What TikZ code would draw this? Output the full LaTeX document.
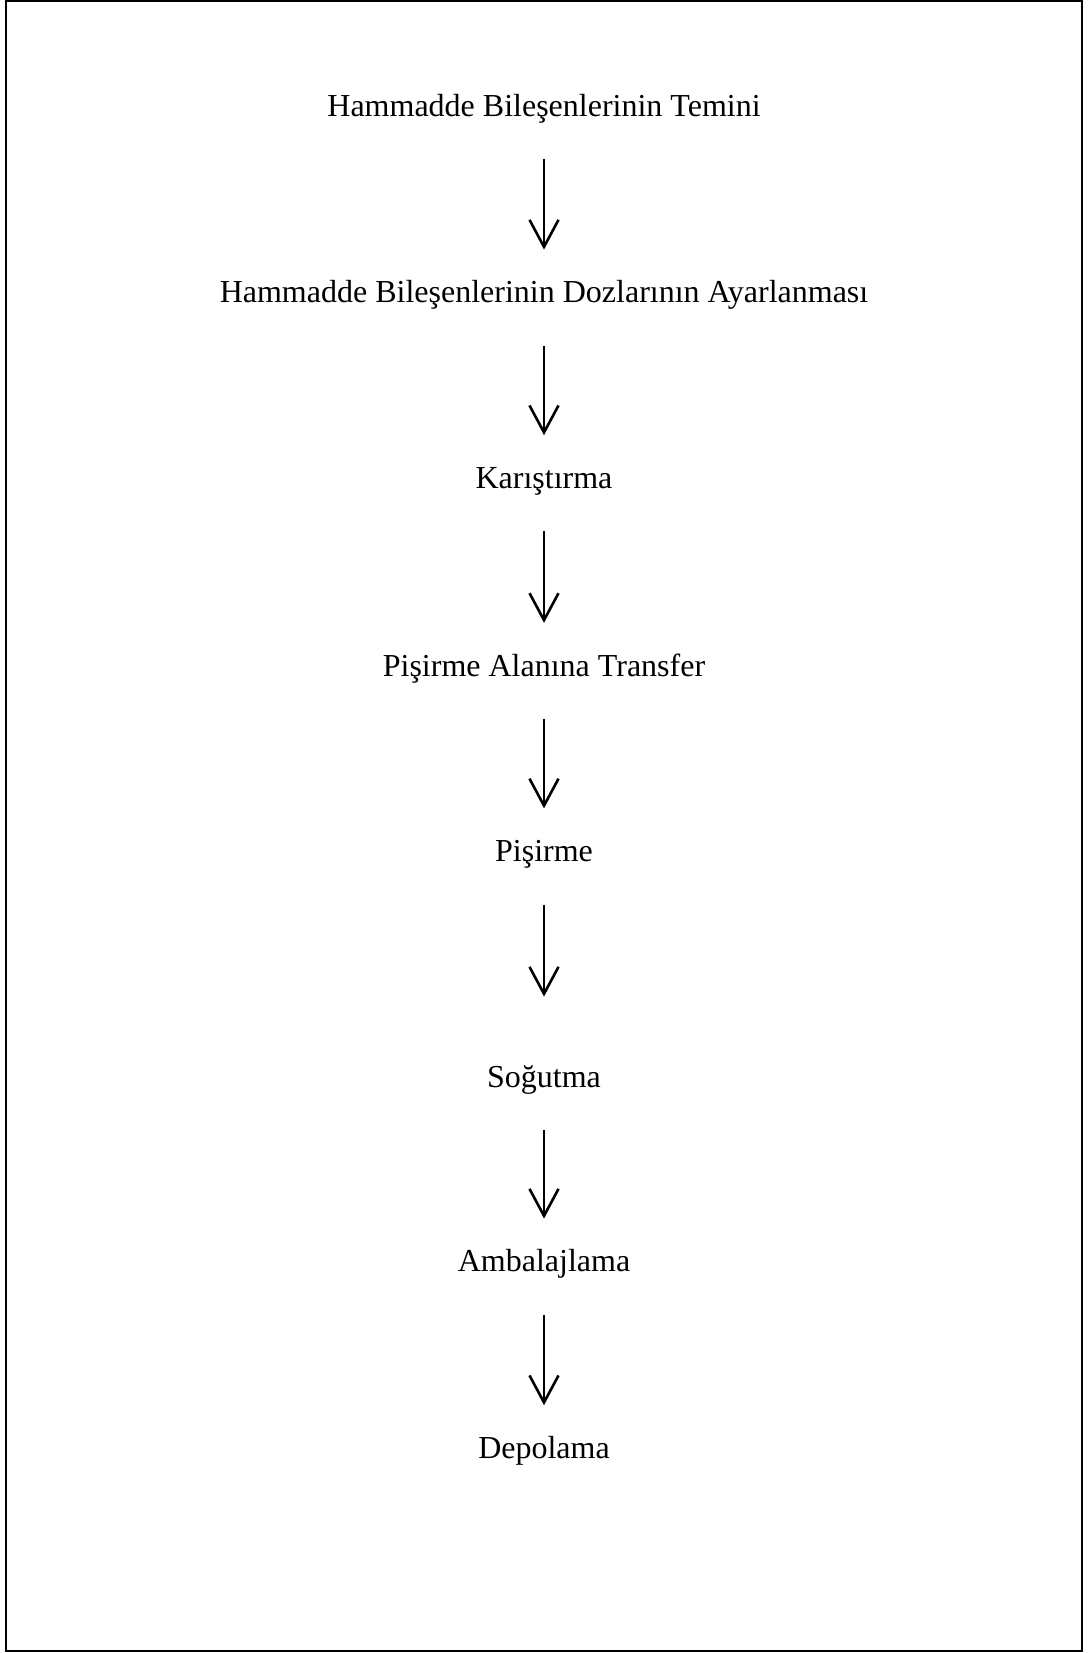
\documentclass[tikz,border=0pt]{standalone}
\usepackage{fontspec}
\setmainfont{Liberation Serif}
\usetikzlibrary{arrows.meta}

\tikzset{every picture/.style={line width=1pt}}
\tikzset{
	stepnode/.style={inner sep=0pt, text height=10.8pt, text depth=0pt, font=\fontsize{16}{19}\selectfont},
	flow/.style={-{Straight Barb[length=13.5pt,width=14.5pt,line width=1.3pt]}, shorten <=21pt, shorten >=15.3pt}}

\begin{document}
\begin{tikzpicture}[x=0.5pt,y=0.5pt,yscale=-1,xscale=1]
	\useasboundingbox (0,0) rectangle (1088,1653);

	%Shape: Rectangle [id:frame] 
	\draw (6,1.5) -- (1082,1.5) -- (1082,1651) -- (6,1651) -- cycle ;

	% Text Node
	\node [stepnode] (temin) at (544,105.4) {Hammadde Bileşenlerinin Temini};
	% Text Node
	\node [stepnode] (doz) at (544,292) {Hammadde Bileşenlerinin Dozlarının Ayarlanması};
	% Text Node
	\node [stepnode] (karis) at (544,477.6) {Karıştırma};
	% Text Node
	\node [stepnode] (transfer) at (544,665.3) {Pişirme Alanına Transfer};
	% Text Node
	\node [stepnode] (pisir) at (544,850.8) {Pişirme};
	% Text Node
	\node [stepnode] (sogut) at (544,1076.4) {Soğutma};
	% Text Node
	\node [stepnode] (ambalaj) at (544,1261) {Ambalajlama};
	% Text Node
	\node [stepnode] (depo) at (544,1447.6) {Depolama};

	% Arrows
	\draw [flow] (temin) -- (doz);
	\draw [flow] (doz) -- (karis);
	\draw [flow] (karis) -- (transfer);
	\draw [flow] (transfer) -- (pisir);
	\draw [flow, shorten >=34pt] (pisir) -- (sogut);
	\draw [flow] (sogut) -- (ambalaj);
	\draw [flow] (ambalaj) -- (depo);

\end{tikzpicture}
\end{document}
